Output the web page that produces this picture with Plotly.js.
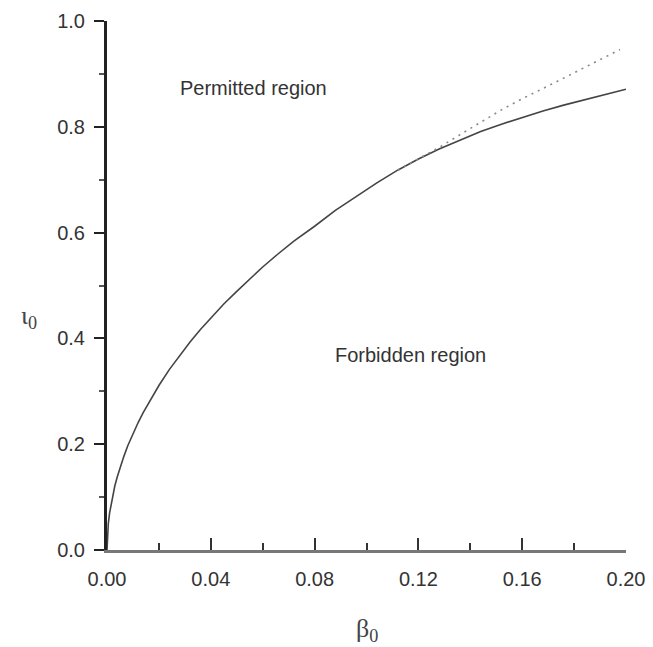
<!DOCTYPE html>
<html>
<head>
<meta charset="utf-8">
<script src="https://cdn.plot.ly/plotly-3.0.1.min.js"></script>
<style>html,body{margin:0;padding:0;background:#fff;}#chart{width:653px;height:647px;}</style>
</head>
<body>
<div id="chart"></div>
<script>
// Solid boundary curve (beta0, iota0)
const betaSolid = [0, 0.0005, 0.001, 0.002, 0.003, 0.004, 0.005, 0.0065, 0.008, 0.010, 0.012, 0.014, 0.017, 0.020, 0.024, 0.028, 0.032, 0.036, 0.040, 0.045, 0.050, 0.055, 0.060, 0.066, 0.072, 0.080, 0.088, 0.096, 0.104, 0.112, 0.120, 0.128, 0.136, 0.144, 0.152, 0.160, 0.168, 0.176, 0.184, 0.192, 0.200];
const iotaSolid = [0, 0.050, 0.070, 0.099, 0.121, 0.139, 0.156, 0.177, 0.197, 0.220, 0.241, 0.260, 0.287, 0.311, 0.341, 0.368, 0.393, 0.417, 0.439, 0.465, 0.489, 0.512, 0.535, 0.560, 0.584, 0.612, 0.642, 0.668, 0.694, 0.718, 0.739, 0.758, 0.775, 0.791, 0.805, 0.818, 0.830, 0.841, 0.851, 0.861, 0.871];
// Dotted curve (diverges above ~0.12)
const betaDotted = [0.112, 0.120, 0.128, 0.136, 0.144, 0.152, 0.160, 0.168, 0.176, 0.184, 0.192, 0.1977];
const iotaDotted = [0.718, 0.739, 0.761, 0.785, 0.809, 0.832, 0.853, 0.872, 0.892, 0.912, 0.932, 0.946];
// Region labels
const labelText = ["Permitted region", "Forbidden region"];
const labelX = [0.0563, 0.1168];
const labelY = [0.873, 0.369];

const tickFont = {family: "Liberation Sans, Arial, sans-serif", size: 20, color: "#333"};

const traces = [
  {x: betaSolid, y: iotaSolid, mode: "lines", line: {color: "#444", width: 1.6}, hoverinfo: "skip"},
  {x: betaDotted, y: iotaDotted, mode: "lines", line: {color: "#888", width: 1.6, dash: "2px,5px"}, hoverinfo: "skip"}
];

const annotations = labelText.map((t, i) => ({
  x: labelX[i], y: labelY[i], xref: "x", yref: "y", text: t, showarrow: false,
  font: {family: tickFont.family, size: 20, color: "#333"}, xanchor: "center", yanchor: "middle"
}));
annotations.push({x: -0.15, y: 0.44, xref: "paper", yref: "paper", text: "ι<sub>0</sub>", showarrow: false,
  font: {family: "Liberation Serif, Times New Roman, serif", size: 26, color: "#444"}, xanchor: "center", yanchor: "middle"});
annotations.push({x: 0.5, y: -0.151, xref: "paper", yref: "paper", text: "β<sub>0</sub>", showarrow: false,
  font: {family: "Liberation Serif, Times New Roman, serif", size: 26, color: "#444"}, xanchor: "center", yanchor: "middle"});

const layout = {
  width: 653, height: 647,
  margin: {l: 107, r: 27, t: 21, b: 97},
  paper_bgcolor: "#fff", plot_bgcolor: "#fff",
  showlegend: false,
  font: tickFont,
  xaxis: {
    range: [0, 0.2], tick0: 0, dtick: 0.04, tickformat: ".2f",
    ticks: "inside", ticklen: 12, tickwidth: 2, tickcolor: "#333",
    minor: {tick0: 0, dtick: 0.02, ticks: "inside", ticklen: 7, tickwidth: 2, tickcolor: "#333"},
    showline: true, linecolor: "#777", linewidth: 3,
    showgrid: false, zeroline: false, tickfont: tickFont, ticklabelstandoff: 9
  },
  yaxis: {
    range: [0, 1], tick0: 0, dtick: 0.2, tickformat: ".1f",
    ticks: "outside", ticklen: 10, tickwidth: 2, tickcolor: "#222",
    minor: {tick0: 0, dtick: 0.1, ticks: "outside", ticklen: 5, tickwidth: 2, tickcolor: "#555"},
    showline: true, linecolor: "#222", linewidth: 3,
    showgrid: false, zeroline: false, tickfont: tickFont, ticklabelstandoff: 5
  },
  annotations: annotations
};

Plotly.newPlot("chart", traces, layout, {displayModeBar: false, staticPlot: true});
</script>
</body>
</html>
